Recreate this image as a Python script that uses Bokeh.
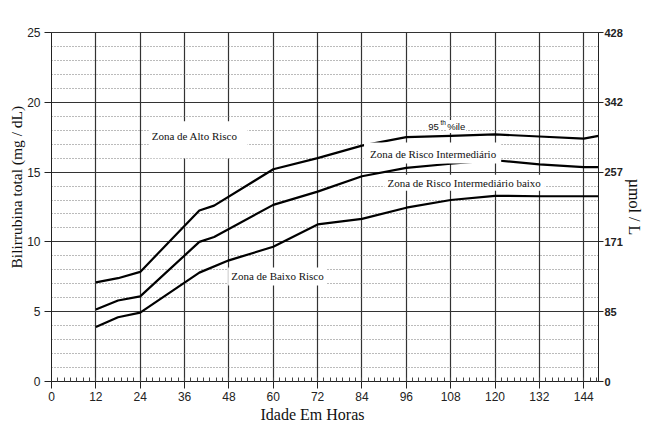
from bokeh.plotting import figure
from bokeh.models import Range1d, LinearAxis, FixedTicker, SingleIntervalTicker, Title
from bokeh.core.properties import value
from bokeh.embed import file_html
from bokeh.resources import INLINE

# ---- data ----
hours = [12, 18, 24, 40, 44, 60, 72, 84, 96, 108, 120, 132, 144, 148]
p95 = [7.1, 7.4, 7.85, 12.25, 12.6, 15.2, 16.0, 16.9, 17.5, 17.6, 17.7, 17.55, 17.4, 17.6]
p75 = [5.15, 5.8, 6.1, 10.0, 10.35, 12.65, 13.6, 14.7, 15.3, 15.6, 15.85, 15.55, 15.35, 15.35]
hours40 = [12, 18, 24, 40, 48, 60, 72, 84, 96, 108, 120, 132, 144, 148]
p40 = [3.9, 4.6, 4.93, 7.8, 8.68, 9.65, 11.25, 11.65, 12.45, 13.0, 13.3, 13.27, 13.27, 13.27]

x_ticks = [0, 12, 24, 36, 48, 60, 72, 84, 96, 108, 120, 132, 144]
y_ticks = [0, 5, 10, 15, 20, 25]
umol_labels = ["0", "85", "171", "257", "342", "428"]

zone_text = ["Zona de Alto Risco", "Zona de Risco Intermediário",
             "Zona de Risco Intermediário baixo", "Zona de Baixo Risco"]
zone_x = [26.3, 84.56, 90.1, 47.8]
zone_y = [17.32, 16.36, 14.24, 7.53]

pct_x = [101.66]
pct_y = [18.26]

x_title = "Idade Em Horas"
y_title = "Bilirrubina total (mg / dL)"
r_title = "µmol / L"

SERIF = value("Liberation Serif")
SANS = value("Liberation Sans")

p = figure(width=645, height=424, x_range=Range1d(0, 148), y_range=Range1d(0, 25),
           output_backend="svg", toolbar_location=None,
           min_border_left=51, min_border_right=0, min_border_top=32, min_border_bottom=43)
p.background_fill_color = "white"
p.border_fill_color = "white"
p.outline_line_color = "#333333"
p.outline_line_width = 1

# grids
p.xgrid.ticker = FixedTicker(ticks=x_ticks[1:])
p.xgrid.grid_line_color = "#333333"
p.xgrid.grid_line_width = 1.2
p.ygrid.ticker = FixedTicker(ticks=y_ticks, minor_ticks=list(range(0, 26)))
p.ygrid.grid_line_color = "#333333"
p.ygrid.grid_line_width = 1.2
p.ygrid.minor_grid_line_color = "#777777"
p.ygrid.minor_grid_line_dash = "1 2"
p.ygrid.minor_grid_line_width = 1

# axes
xa = p.xaxis[0]
xa.ticker = SingleIntervalTicker(interval=12, num_minor_ticks=7)
xa.major_label_text_font = "Liberation Sans"
xa.major_label_text_font_size = "12px"
xa.major_label_text_color = "#222222"
xa.major_label_standoff = 3
xa.major_tick_in = 0
xa.major_tick_out = 7
xa.minor_tick_in = 4
xa.minor_tick_out = 0
xa.axis_line_color = "#222222"
xa.major_tick_line_color = "#222222"
xa.minor_tick_line_color = "#444444"

ya = p.yaxis[0]
ya.ticker = FixedTicker(ticks=y_ticks)
ya.major_label_text_font = "Liberation Sans"
ya.major_label_text_font_size = "12px"
ya.major_label_text_color = "#222222"
ya.major_label_standoff = 4
ya.major_tick_in = 0
ya.major_tick_out = 7
ya.axis_line_color = "#222222"
ya.major_tick_line_color = "#222222"

ra = LinearAxis(ticker=FixedTicker(ticks=y_ticks),
                major_label_overrides={t: s for t, s in zip(y_ticks, umol_labels)})
ra.axis_label = r_title
ra.axis_label_text_font = "Liberation Serif"
ra.axis_label_text_font_size = "16px"
ra.axis_label_text_font_style = "normal"
ra.axis_label_text_color = "#111111"
ra.axis_label_standoff = 0
ra.major_label_text_font = "Liberation Sans"
ra.major_label_text_font_size = "11px"
ra.major_label_text_font_style = "bold"
ra.major_label_text_color = "#222222"
ra.major_label_standoff = 1
ra.major_tick_in = 0
ra.major_tick_out = 5
ra.axis_line_color = "#222222"
ra.major_tick_line_color = "#222222"
p.add_layout(ra, "right")

# axis titles as side-panel titles (off-centre like the reference)
p.add_layout(Title(text=x_title, align="left", offset=209, standoff=0,
                   text_font="Liberation Serif", text_font_size="16px",
                   text_font_style="normal", text_color="#111111"), "below")
p.add_layout(Title(text=y_title, align="left", offset=113, standoff=0,
                   text_font="Liberation Serif", text_font_size="15.5px",
                   text_font_style="normal", text_color="#111111"), "left")

# curves
for xs, ys in [(hours, p95), (hours, p75), (hours40, p40)]:
    p.line(xs, ys, line_color="black", line_width=2.2)

# zone labels with white backgrounds (mask grid and curves like the reference)
pads = [dict(left=3, right=10, top=9, bottom=16),
        dict(left=6, right=5, top=5, bottom=4),
        dict(left=3, right=4, top=2, bottom=2),
        dict(left=3, right=3, top=3, bottom=3)]
for i in range(4):
    p.text(x=[zone_x[i]], y=[zone_y[i]], text=[zone_text[i]],
           text_font=SERIF, text_font_size="11px", text_color="#111111",
           text_align="left", text_baseline="middle",
           background_fill_color="white", padding=pads[i])

p.text(x=pct_x, y=pct_y, text=["95"], text_font=SANS, text_font_size="9.5px",
       text_color="#111111", text_align="left", text_baseline="middle",
       background_fill_color="white", padding=1)
p.text(x=pct_x, y=pct_y, text=["th"], text_font=SANS, text_font_size="6.5px",
       text_color="black", text_align="left", text_baseline="middle",
       x_offset=13.3, y_offset=-4)
p.text(x=pct_x, y=pct_y, text=["%ile"], text_font=SANS, text_font_size="9.5px",
       text_color="#111111", text_align="left", text_baseline="middle",
       x_offset=19, background_fill_color="white", padding=1)

open("out.html", "w").write(file_html(p, INLINE))
